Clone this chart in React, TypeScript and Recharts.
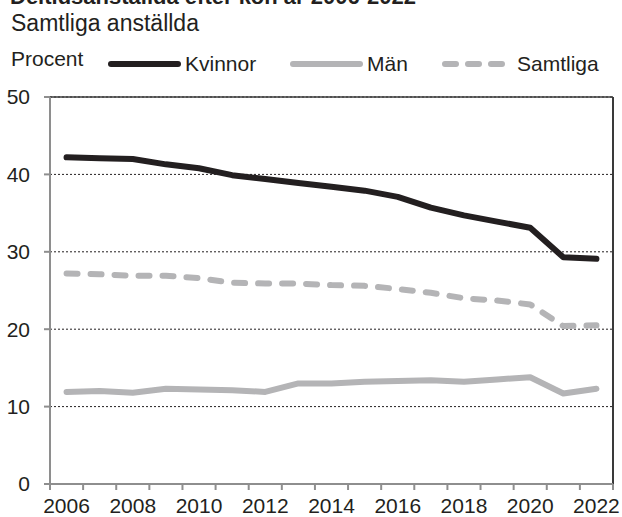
import {
  LineChart,
  Line,
  XAxis,
  YAxis,
  CartesianGrid,
  ReferenceLine,
} from "recharts";

// ── Data ──
const years = [
  2006, 2007, 2008, 2009, 2010, 2011, 2012, 2013, 2014, 2015, 2016, 2017,
  2018, 2019, 2020, 2021, 2022,
];
const kvinnor = [
  42.2, 42.1, 42.0, 41.3, 40.8, 39.9, 39.4, 38.9, 38.4, 37.9, 37.1, 35.7, 34.7,
  33.9, 33.1, 29.3, 29.1,
];
const man = [
  11.9, 12.0, 11.8, 12.3, 12.2, 12.1, 11.9, 13.0, 13.0, 13.2, 13.3, 13.4, 13.2,
  13.5, 13.8, 11.7, 12.3,
];
const samtliga = [
  27.2, 27.1, 26.9, 26.9, 26.6, 26.0, 25.9, 25.9, 25.7, 25.6, 25.2, 24.7, 24.0,
  23.7, 23.2, 20.4, 20.5,
];
const yTicks = [0, 10, 20, 30, 40, 50];

// ── Style ──
const FONT = '"Liberation Sans", Arial, sans-serif';
const INK = "#231f20";
const GRAY = "#b4b4b6";
const AXIS = "#8e8e8e";
const BORDER = "#3a3a3a";

const series = [
  { key: "kvinnor", name: "Kvinnor", color: INK, dash: undefined, lx: 108 },
  { key: "man", name: "Män", color: GRAY, dash: undefined, lx: 290 },
  { key: "samtliga", name: "Samtliga", color: GRAY, dash: "11 13", lx: 442 },
];

const data = years.map((year, i) => ({
  pos: i + 0.5,
  year,
  kvinnor: kvinnor[i],
  man: man[i],
  samtliga: samtliga[i],
}));

// tick marks on category boundaries, labels on every second category centre
const xTicks: number[] = [];
for (let i = 0; i <= years.length; i++) {
  xTicks.push(i);
  if (i < years.length && i % 2 === 0) xTicks.push(i + 0.5);
}

const XTick = (props: any) => {
  const { x, y, payload } = props;
  const v = payload.value as number;
  if (Number.isInteger(v)) {
    return <line x1={x} x2={x} y1={y - 6} y2={y} stroke={AXIS} strokeWidth={2} />;
  }
  return (
    <text
      x={x}
      y={y + 23}
      textAnchor="middle"
      fill={INK}
      fontSize={21}
      fontFamily={FONT}
    >
      {years[Math.floor(v)]}
    </text>
  );
};

export default function App() {
  return (
    <div
      style={{
        position: "absolute",
        top: 0,
        left: 0,
        width: 622,
        height: 517,
        background: "#fff",
        overflow: "hidden",
      }}
    >
      <LineChart
        width={622}
        height={517}
        data={data}
        margin={{ top: 97, right: 9, bottom: 0, left: 0 }}
      >
        <CartesianGrid
          vertical={false}
          stroke={INK}
          strokeDasharray="2 2"
          strokeWidth={1}
        />
        <XAxis
          type="number"
          dataKey="pos"
          domain={[0, years.length]}
          ticks={xTicks}
          interval={0}
          height={33}
          tickSize={6}
          tickMargin={0}
          tickLine={false}
          tick={XTick}
          axisLine={{ stroke: AXIS, strokeWidth: 2 }}
        />
        <YAxis
          type="number"
          domain={[0, 50]}
          ticks={yTicks}
          interval={0}
          width={50}
          tickSize={6}
          tickMargin={14}
          tickLine={{ stroke: AXIS, strokeWidth: 2 }}
          axisLine={{ stroke: AXIS, strokeWidth: 2 }}
          tick={{ fontSize: 21, fill: INK, fontFamily: FONT }}
        />
        <ReferenceLine y={50} stroke={BORDER} strokeWidth={1.5} />
        <ReferenceLine x={years.length} stroke={BORDER} strokeWidth={2} />
        {[...series].reverse().map((s) => (
          <Line
            key={s.key}
            type="linear"
            dataKey={s.key}
            name={s.name}
            stroke={s.color}
            strokeWidth={6}
            strokeDasharray={s.dash}
            strokeLinecap="round"
            strokeLinejoin="round"
            dot={false}
            activeDot={false}
            isAnimationActive={false}
          />
        ))}
      </LineChart>

      {/* ── Title, subtitle and legend ── */}
      <svg
        width={622}
        height={90}
        style={{ position: "absolute", top: 0, left: 0, pointerEvents: "none" }}
        fontFamily={FONT}
        fill={INK}
      >
        <text x={10} y={4} fontSize={22} fontWeight="bold">
          Deltidsanställda efter kön år 2006-2022
        </text>
        <text x={11} y={31} fontSize={23}>
          Samtliga anställda
        </text>
        <text x={11} y={66} fontSize={21}>
          Procent
        </text>
        {series.map((s) => (
          <g key={s.key}>
            <line
              x1={s.lx + 3}
              x2={s.lx + 70}
              y1={64}
              y2={64}
              stroke={s.color}
              strokeWidth={6}
              strokeLinecap="round"
              strokeDasharray={s.dash ? "11 12" : undefined}
            />
            <text x={s.key === "samtliga" ? s.lx + 75 : s.lx + 77} y={71} fontSize={21}>
              {s.name}
            </text>
          </g>
        ))}
      </svg>
    </div>
  );
}
